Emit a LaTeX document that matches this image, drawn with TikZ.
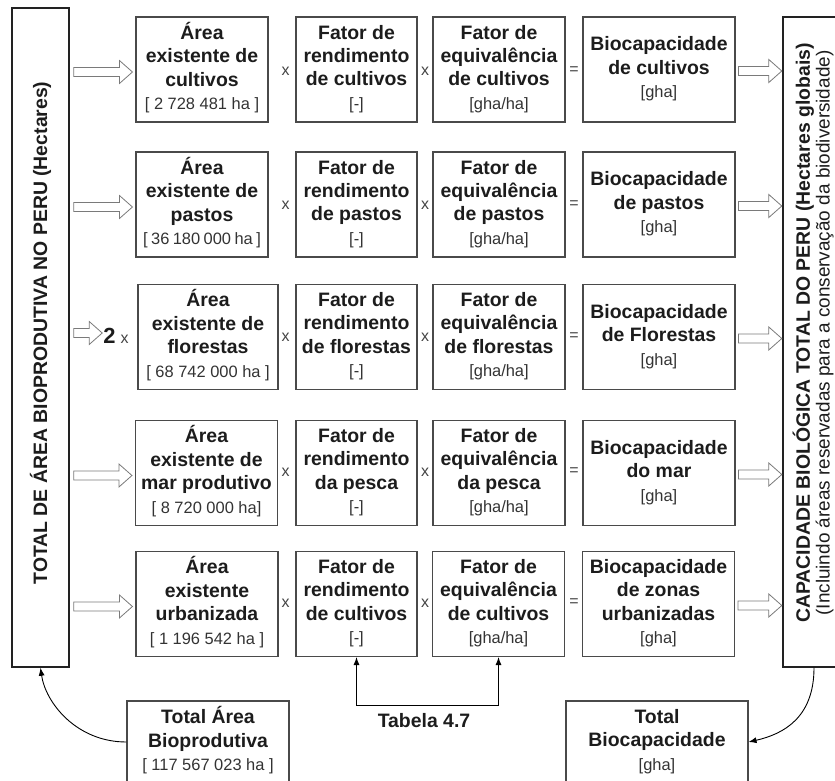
\documentclass[tikz,border=0pt]{standalone}
\usepackage{fontspec}
\setmainfont{Liberation Sans}
\usepackage{graphicx}
\usetikzlibrary{calc,arrows.meta}

\definecolor{boxline}{HTML}{4A4A4A}
\definecolor{frameline}{HTML}{222222}
\definecolor{txt}{HTML}{1C1C1C}
\definecolor{subtxt}{HTML}{333333}
\definecolor{opgray}{HTML}{444444}
\definecolor{arrowgray}{HTML}{7A7A7A}

% text styles
\newcommand{\titlefont}{\fontsize{19.5}{23.5}\selectfont\bfseries}
\newcommand{\unitline}[1]{{\fontsize{16.5}{23.5}\selectfont\mdseries\color{subtxt}#1}}
\newcommand{\unitlinetight}[1]{{\fontsize{16.5}{23.5}\selectfont\mdseries\color{subtxt}\spaceskip=0.21em#1}}
% centred lines with a fixed line pitch (tabular struts follow \titlefont)
\newcommand{\stackcell}[1]{{\titlefont\begin{tabular}{@{}c@{}}#1\end{tabular}}}

% hollow block arrow from #1 to tip #2 (same height)
\newcommand{\hollowarrow}[2]{%
  \draw[hollow] ($(#1)+(0,4.5)$) -- ($(#2)+(-13,4.5)$) -- ($(#2)+(-13,11.5)$)
    -- (#2) -- ($(#2)+(-13,-11.5)$) -- ($(#2)+(-13,-4.5)$) -- ($(#1)+(0,-4.5)$) -- cycle;}

\tikzset{
  box/.style={draw=boxline, line width=1.1bp, minimum height=105bp, minimum width=#1,
              inner sep=0pt, text=txt, font=\titlefont},
  frame/.style={draw=frameline, line width=1.4bp, inner sep=0pt, text=txt},
  endbox/.style={draw=boxline, line width=1.1bp, minimum height=82bp, minimum width=#1,
              inner sep=0pt, text=txt, font=\titlefont},
  op/.style={inner sep=0pt, text=opgray, font=\fontsize{16}{18}\selectfont},
  hollow/.style={draw=arrowgray, fill=white, line width=0.8bp, line join=miter},
  link/.style={draw=black, line width=0.9bp, -{Latex[length=8bp,width=6bp]}},
  c1a/.style={box=132bp},
  c1b/.style={box=142bp},
  c2/.style={box=121bp},
  c3/.style={box=132bp},
  c4/.style={box=152bp},
}

\begin{document}
\begin{tikzpicture}[x=1bp, y=-1bp]
\useasboundingbox (0,0) rectangle (835,781);

% side frames
\node[frame, minimum width=57bp, minimum height=659bp] (lbox) at (40.5,337.5)
  {\rotatebox{90}{\hspace{9bp}\titlefont TOTAL DE ÁREA BIOPRODUTIVA NO PERU (Hectares)}};
\node[frame, minimum width=62bp, minimum height=650bp] (rbox) at (814,342)
  {\rotatebox{90}{\hspace{18bp}\fontsize{19}{19}\selectfont\begin{tabular}{@{}c@{}}
    \titlefont CAPACIDADE BIOLÓGICA TOTAL DO PERU (Hectares globais)\\
    \fontsize{19}{19}\selectfont (Incluindo áreas reservadas para a conservação da biodiversidade)
  \end{tabular}}};

% row 1: cultivos
\node[c1a] (r1c1) at (202,69.5) {\stackcell{Área\\existente de\\cultivos\\\unitline{[ 2 728 481 ha ]}}};
\node[c2] (r1c2) at (356.5,69.5) {\stackcell{Fator de\\rendimento\\de cultivos\\\unitline{[-]}}};
\node[c3] (r1c3) at (499,69.5) {\stackcell{Fator de\\equivalência\\de cultivos\\\unitline{[gha/ha]}}};
\node[c4] (r1c4) at (659,69.5) {\stackcell{Biocapacidade\\de cultivos\\\unitline{[gha]}}};

% row 2: pastos
\node[c1a] (r2c1) at (202,204.5) {\stackcell{Área\\existente de\\pastos\\\unitlinetight{[ 36 180 000 ha ]}}};
\node[c2] (r2c2) at (356.5,204.5) {\stackcell{Fator de\\rendimento\\de pastos\\\unitline{[-]}}};
\node[c3] (r2c3) at (499,204.5) {\stackcell{Fator de\\equivalência\\de pastos\\\unitline{[gha/ha]}}};
\node[c4] (r2c4) at (659,204.5) {\stackcell{Biocapacidade\\de pastos\\\unitline{[gha]}}};

% row 3: florestas
\node[box=140bp] (r3c1) at (208,337) {\stackcell{Área\\existente de\\florestas\\\unitline{[ 68 742 000 ha ]}}};
\node[c2] (r3c2) at (356.5,337) {\stackcell{Fator de\\rendimento\\de florestas\\\unitline{[-]}}};
\node[c3] (r3c3) at (499,337) {\stackcell{Fator de\\equivalência\\de florestas\\\unitline{[gha/ha]}}};
\node[c4] (r3c4) at (659,337) {\stackcell{Biocapacidade\\de Florestas\\\unitline{[gha]}}};

% row 4: mar
\node[c1b] (r4c1) at (206.5,473) {\stackcell{Área\\existente de\\mar produtivo\\\unitline{[ 8 720 000 ha]}}};
\node[c2] (r4c2) at (356.5,473) {\stackcell{Fator de\\rendimento\\da pesca\\\unitline{[-]}}};
\node[c3] (r4c3) at (499,473) {\stackcell{Fator de\\equivalência\\da pesca\\\unitline{[gha/ha]}}};
\node[c4] (r4c4) at (659,473) {\stackcell{Biocapacidade\\do mar\\\unitline{[gha]}}};

% row 5: urbanizada
\node[c1b] (r5c1) at (207,604) {\stackcell{Área\\existente\\urbanizada\\\unitline{[ 1 196 542 ha ]}}};
\node[c2] (r5c2) at (356.5,604) {\stackcell{Fator de\\rendimento\\de cultivos\\\unitline{[-]}}};
\node[c3] (r5c3) at (498.5,604) {\stackcell{Fator de\\equivalência\\de cultivos\\\unitline{[gha/ha]}}};
\node[c4] (r5c4) at (658.5,604) {\stackcell{Biocapacidade\\de zonas\\urbanizadas\\\unitline{[gha]}}};

% operators
\foreach \r/\y in {1/71, 2/205, 3/337, 4/472, 5/603} {
  \node[op] (m\r a) at (285.5,\y) {x};
  \node[op] (m\r b) at (425,\y) {x};
  \node[op] (e\r)   at (574,\y) {=};
}
\node[inner sep=0pt, text=txt] (two) at (116,336)
  {\fontsize{22}{24}\selectfont\bfseries 2\hspace{5bp}\fontsize{16}{18}\mdseries\color{opgray}x};

% hollow arrows into the area boxes
\foreach \r/\t in {1/r1c1, 2/r2c1, 4/r4c1, 5/r5c1} {
  \path (lbox.east |- \t.west) ++(4,2.5) coordinate (ls\r);
  \path (\t.west) ++(-3,2.5) coordinate (lt\r);
  \hollowarrow{ls\r}{lt\r}
}
\path (lbox.east |- two.west) ++(4,-3) coordinate (ls3);
\path (two.west) ++(-1,-3) coordinate (lt3);
\hollowarrow{ls3}{lt3}

% hollow arrows into the total capacity frame
\foreach \r in {1,...,5} {
  \path (r\r c4.east) ++(3,1.5) coordinate (rs\r);
  \path (rbox.west |- r\r c4.east) ++(-0.5,1.5) coordinate (rt\r);
  \hollowarrow{rs\r}{rt\r}
}

% totals
\node[endbox=162bp] (tarea) at (208,742)
  {\stackcell{Total Área\\Bioprodutiva\\\unitline{[ 117 567 023 ha ]}}};
\node[endbox=182bp] (tbio) at (657,742)
  {\stackcell{Total\\Biocapacidade\\\unitline{[gha]}}};

\node[inner sep=0pt, text=txt, font=\titlefont] (tabela) at (424,721) {Tabela 4.7};
\coordinate (tabjoin) at (424,705);
\draw[link] (tabjoin) -| (r5c2.south);
\draw[link] (tabjoin) -| (r5c3.south);

% curved links to and from the side frames
\draw[link] (tarea.west) .. controls ($(tarea.west)+(-50,0)$) and ($(lbox.south)+(5,35)$) .. (lbox.south);
\draw[link] (rbox.south) .. controls ($(rbox.south)+(0,50)$) and ($(tbio.east)+(35,-8)$) .. (tbio.east);
\end{tikzpicture}
\end{document}
